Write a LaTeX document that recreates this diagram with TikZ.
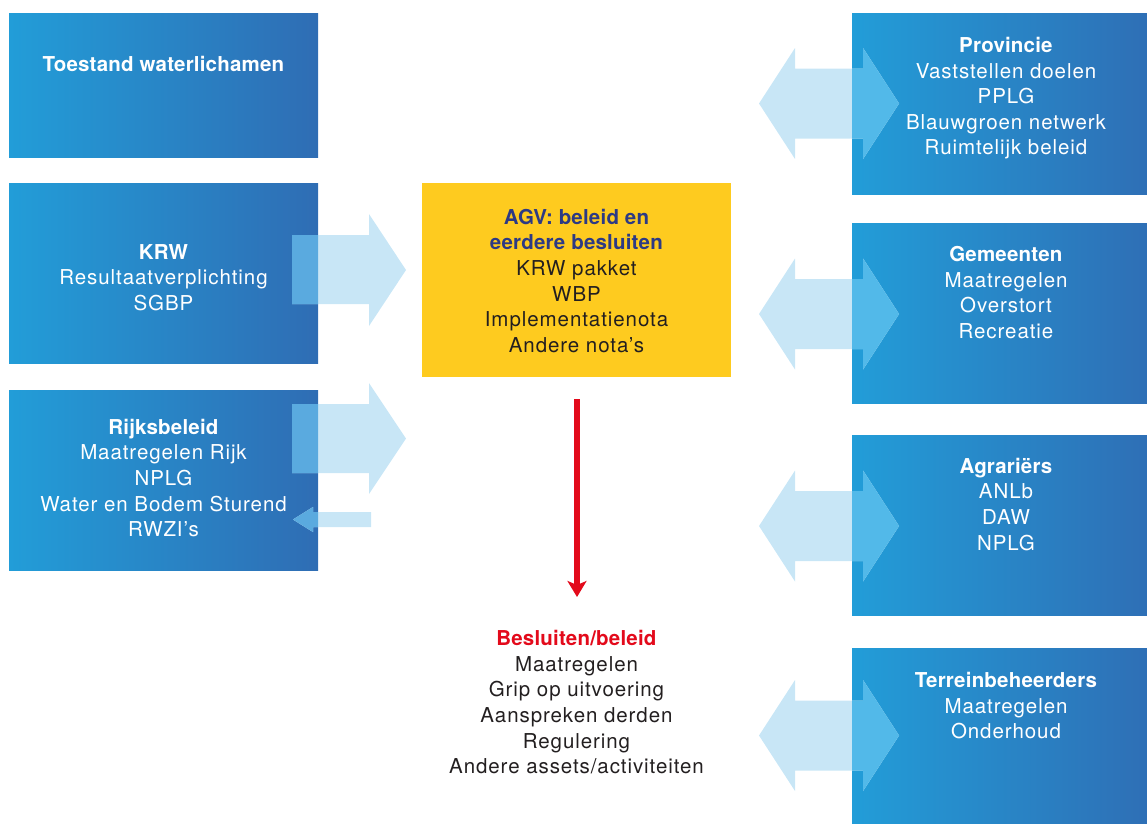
\documentclass[tikz,border=0pt]{standalone}
\usepackage{fontspec}
\setmainfont{TeX Gyre Heros}[LetterSpace=4.5, BoldFeatures={LetterSpace=1}]
\usetikzlibrary{arrows.meta}
\definecolor{boxL}{RGB}{34,157,216}
\definecolor{boxR}{RGB}{47,109,180}
\definecolor{arrowlight}{RGB}{200,230,246}
\definecolor{overleft}{RGB}{90,170,223}
\definecolor{overright}{RGB}{82,185,233}
\definecolor{agvyel}{RGB}{254,203,31}
\definecolor{navy}{RGB}{45,58,132}
\definecolor{darktxt}{RGB}{35,31,32}
\definecolor{redc}{RGB}{227,10,27}
\tikzset{
  bluebox/.style={anchor=north west, minimum width=309pt, inner sep=0pt, outer sep=0pt,
    left color=boxL, right color=boxR, draw=none},
  yelbox/.style={anchor=north west, minimum width=309pt, minimum height=194pt, inner sep=0pt,
    fill=agvyel, draw=none},
  boxtext/.style={anchor=base, align=center, inner sep=0pt, text=white,
    font=\fontsize{20.5}{25.6}\selectfont},
  darktext/.style={anchor=base, align=center, inner sep=0pt, text=darktxt,
    font=\fontsize{20.5}{25.6}\selectfont},
  blockarrow/.style={fill=arrowlight, draw=none},
  redarrow/.style={draw=redc, line width=6pt, -{Stealth[length=16pt,width=19pt,inset=4pt]}}
}
\newcommand\krwarrowpath{(292,235) -- (369,235) -- (369,214) -- (406,270) -- (369,326) -- (369,304) -- (292,304) -- cycle}
\newcommand\rijkarrowpath{(292,404) -- (369,404) -- (369,383) -- (406,438.5) -- (369,494) -- (369,473) -- (292,473) -- cycle}
\newcommand\backarrowpath{(293,519.5) -- (313,507) -- (313,512) -- (371,512) -- (371,527) -- (313,527) -- (313,532) -- cycle}
\newcommand\dblarrowpath[1]{(759,#1) -- (795,#1-55.5) -- (795,#1-35) -- (863,#1-35) -- (863,#1-55.5)
    -- (899,#1) -- (863,#1+55.5) -- (863,#1+35) -- (795,#1+35) -- (795,#1+55.5) -- cycle}
\begin{document}
\begin{tikzpicture}[x=1pt,y=-1pt]
\useasboundingbox (0,0) rectangle (1147,823);
% left boxes
\node[bluebox, minimum height=144pt] (toestand) at (9,13) {};
\node[bluebox, minimum height=180pt] (krw) at (9,183) {};
\node[bluebox, minimum height=180pt] (rijk) at (9,390) {};
% right boxes
\node[bluebox, minimum height=181pt] (prov) at (852,13) {};
\node[bluebox, minimum height=180pt] (gem) at (852,223) {};
\node[bluebox, minimum height=180pt] (agr) at (852,435) {};
\node[bluebox, minimum height=180pt] (terr) at (852,648) {};
% yellow box
\node[yelbox] (agv) at (422,183) {};

% texts (anchor = baseline of last line)
\node[boxtext] (ttoestand) at (163.5,71) {\textbf{Toestand waterlichamen}};
\node[boxtext] (tkrw) at (163.5,310.2) {\textbf{KRW}\\Resultaatverplichting\\SGBP};
\node[boxtext] (trijk) at (163.5,536.7) {\textbf{Rijksbeleid}\\Maatregelen Rijk\\NPLG\\Water en Bodem Sturend\\RWZI’s};
\node[boxtext] (tprov) at (1006,154.9) {\textbf{Provincie}\\Vaststellen doelen\\PPLG\\Blauwgroen netwerk\\Ruimtelijk beleid};
\node[boxtext] (tgem) at (1006,338.3) {\textbf{Gemeenten}\\Maatregelen\\Overstort\\Recreatie};
\node[boxtext] (tagr) at (1006,550.1) {\textbf{Agrariërs}\\ANLb\\DAW\\NPLG};
\node[boxtext] (tterr) at (1006,738.9) {\textbf{Terreinbeheerders}\\Maatregelen\\Onderhoud};
\node[darktext] (tagv) at (576.5,352.3) {\textcolor{navy}{\textbf{AGV: beleid en}}\\\textcolor{navy}{\textbf{eerdere besluiten}}\\KRW pakket\\WBP\\Implementatienota\\Andere nota’s};
\node[darktext] (tbes) at (576.5,773.7) {\textcolor{redc}{\textbf{Besluiten/beleid}}\\Maatregelen\\Grip op uitvoering\\Aanspreken derden\\Regulering\\Andere assets/activiteiten};

% block arrows left
\fill[blockarrow] \krwarrowpath;
\fill[blockarrow] \rijkarrowpath;
\fill[blockarrow] \backarrowpath;
\begin{scope}
  \clip (krw.north west) rectangle (krw.south east);
  \fill[overleft] \krwarrowpath;
\end{scope}
\begin{scope}
  \clip (rijk.north west) rectangle (rijk.south east);
  \fill[overleft] \rijkarrowpath;
  \fill[overleft] \backarrowpath;
\end{scope}
% double arrows right
\foreach \yc/\bx in {103.5/prov,314/gem,526/agr,735.5/terr}{
  \fill[blockarrow] \dblarrowpath{\yc};
  \begin{scope}
    \clip (\bx.north west) rectangle (\bx.south east);
    \fill[overright] \dblarrowpath{\yc};
  \end{scope}
}
% red arrow
\coordinate (rs) at (577,399);
\coordinate (re) at (577,597);
\draw[redarrow] (rs) -- (re);
\end{tikzpicture}
\end{document}
